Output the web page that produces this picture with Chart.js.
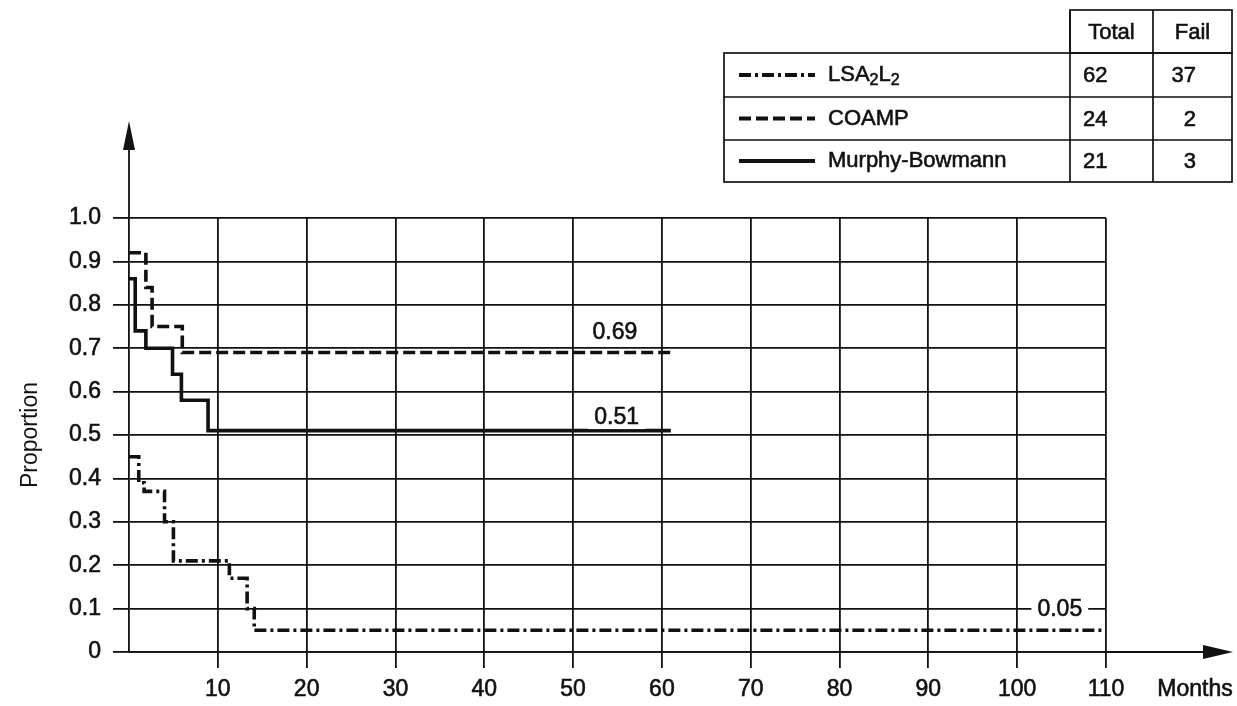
<!DOCTYPE html>
<html>
<head>
<meta charset="utf-8">
<script src="https://cdn.jsdelivr.net/npm/chart.js@4.4.1/dist/chart.umd.min.js"></script>
<style>
  html, body { margin: 0; padding: 0; background: #fff; }
  canvas { display: block; }
</style>
</head>
<body>
<canvas id="survivalChart" width="1237" height="706"></canvas>
<script>
// step curves: month where the step starts, proportion after it
const lsaMonths = [0, 1.1, 1.7, 4.0, 5.0, 11.3, 13.3, 14.1, 110];
const lsaValues = [0.45, 0.39, 0.37, 0.30, 0.21, 0.17, 0.10, 0.05, 0.05];
const coampMonths = [0, 1.9, 2.6, 6.0, 61];
const coampValues = [0.92, 0.84, 0.75, 0.69, 0.69];
const murphyMonths = [0, 0.7, 1.9, 4.9, 5.9, 8.9, 61];
const murphyValues = [0.86, 0.74, 0.70, 0.64, 0.58, 0.51, 0.51];

// legend table
const groupNames = ["LSA2L2", "COAMP", "Murphy-Bowmann"];
const groupTotals = ["62", "24", "21"];
const groupFails = ["37", "2", "3"];
const tableHeaders = ["Total", "Fail"];

// tick labels
const yTickLabels = ["0", "0.1", "0.2", "0.3", "0.4", "0.5", "0.6", "0.7", "0.8", "0.9", "1.0"];
const xTickLabels = ["", "10", "20", "30", "40", "50", "60", "70", "80", "90", "100", "110"];

// labels at the end of each curve
const endLabels = ["0.69", "0.51", "0.05"];
const endLabelMonths = [54.7, 54.9, 104.8];
const endLabelValues = [0.736, 0.539, 0.097];

const INK = "#111";
const FONT = "'Liberation Sans', Arial, sans-serif";

const toPoints = (xs, ys) => xs.map((m, i) => ({ x: m, y: ys[i] }));

const dashLsa = [12, 4, 3, 4];
const dashCoamp = [12, 5];
const lineStyles = [dashLsa, dashCoamp, []];

// slightly heavier text, like the printed original
function inkText(ctx, s, x, y) {
  ctx.fillText(s, x, y);
  ctx.strokeText(s, x, y);
}

const decor = {
  id: "decor",
  afterDraw(chart) {
    const { ctx, chartArea: a, scales } = chart;
    const x0 = scales.x.getPixelForValue(0);
    const y0 = scales.y.getPixelForValue(0);
    ctx.save();
    ctx.strokeStyle = INK;
    ctx.fillStyle = INK;
    ctx.lineWidth = 1.8;
    ctx.setLineDash([]);

    // y axis arrow
    ctx.beginPath();
    ctx.moveTo(x0, a.top);
    ctx.lineTo(x0, 146);
    ctx.stroke();
    ctx.beginPath();
    ctx.moveTo(x0, 121);
    ctx.lineTo(x0 - 6, 150);
    ctx.lineTo(x0 + 6, 150);
    ctx.closePath();
    ctx.fill();

    // x axis arrow
    ctx.beginPath();
    ctx.moveTo(a.right, y0);
    ctx.lineTo(1208, y0);
    ctx.stroke();
    ctx.beginPath();
    ctx.moveTo(1233, y0);
    ctx.lineTo(1203, y0 - 7);
    ctx.lineTo(1203, y0 + 7);
    ctx.closePath();
    ctx.fill();

    ctx.lineWidth = 0.6;
    // Months
    ctx.font = "23px " + FONT;
    ctx.textAlign = "center";
    ctx.textBaseline = "middle";
    inkText(ctx, "Months", 1195, a.bottom + 38);

    // end labels
    endLabels.forEach((t, i) => {
      const px = scales.x.getPixelForValue(endLabelMonths[i]);
      const py = scales.y.getPixelForValue(endLabelValues[i]);
      const w = ctx.measureText(t).width;
      ctx.fillStyle = "#fff";
      ctx.fillRect(px - w / 2 - 6, py - 11, w + 12, 22);
      ctx.fillStyle = INK;
      inkText(ctx, t, px, py);
    });

    // legend table
    const tl = 724, c1 = 1070, c2 = 1153, tr = 1232;
    const rows = [10, 53, 97, 140, 182];
    ctx.fillStyle = "#fff";
    ctx.fillRect(c1, rows[0], tr - c1, rows[1] - rows[0]);
    ctx.fillRect(tl, rows[1], tr - tl, rows[4] - rows[1]);
    ctx.fillStyle = INK;
    ctx.lineWidth = 1.7;
    ctx.strokeRect(c1, rows[0], tr - c1, rows[1] - rows[0]);
    ctx.strokeRect(tl, rows[1], tr - tl, rows[4] - rows[1]);
    ctx.beginPath();
    [rows[2], rows[3]].forEach(r => { ctx.moveTo(tl, r); ctx.lineTo(tr, r); });
    [c1, c2].forEach(c => { ctx.moveTo(c, rows[0]); ctx.lineTo(c, rows[4]); });
    ctx.stroke();

    ctx.lineWidth = 0.6;
    ctx.font = "22px " + FONT;
    ctx.textBaseline = "middle";
    ctx.textAlign = "center";
    inkText(ctx, tableHeaders[0], (c1 + c2) / 2, (rows[0] + rows[1]) / 2 + 1);
    inkText(ctx, tableHeaders[1], (c2 + tr) / 2, (rows[0] + rows[1]) / 2 + 1);

    groupNames.forEach((name, i) => {
      const cy = (rows[i + 1] + rows[i + 2]) / 2;
      // line sample
      ctx.lineWidth = 4;
      ctx.setLineDash(lineStyles[i]);
      ctx.beginPath();
      ctx.moveTo(739, cy);
      ctx.lineTo(815, cy);
      ctx.stroke();
      ctx.setLineDash([]);
      ctx.lineWidth = 0.6;

      ctx.textAlign = "left";
      if (name === "LSA2L2") {
        let px = 828;
        const parts = [["LSA", 0, 22], ["2", 6, 16], ["L", 0, 22], ["2", 6, 16]];
        parts.forEach(([s, dy, size]) => {
          ctx.font = size + "px " + FONT;
          inkText(ctx, s, px, cy + dy);
          px += ctx.measureText(s).width;
        });
        ctx.font = "22px " + FONT;
      } else {
        inkText(ctx, name, 828, cy);
      }
      inkText(ctx, groupTotals[i], 1083, cy + 1);
      ctx.textAlign = "right";
      inkText(ctx, groupFails[i], 1196, cy + 1);
    });
    ctx.restore();
  }
};

const ctx = document.getElementById("survivalChart").getContext("2d");

new Chart(ctx, {
  type: "line",
  data: {
    datasets: [
      {
        label: "LSA2L2",
        data: toPoints(lsaMonths, lsaValues),
        borderDash: dashLsa
      },
      {
        label: "COAMP",
        data: toPoints(coampMonths, coampValues),
        borderDash: dashCoamp
      },
      {
        label: "Murphy-Bowmann",
        data: toPoints(murphyMonths, murphyValues),
        borderDash: []
      }
    ].map(ds => ({
      ...ds,
      stepped: true,
      borderColor: INK,
      borderWidth: 3.6,
      pointRadius: 0,
      fill: false
    }))
  },
  options: {
    responsive: false,
    animation: false,
    devicePixelRatio: 1,
    layout: { padding: { top: 218, right: 131, left: 0, bottom: 0 } },
    plugins: {
      legend: { display: false },
      tooltip: { enabled: false }
    },
    scales: {
      x: {
        type: "linear",
        min: 0,
        max: 110,
        afterFit: s => { s.height = 54; },
        afterBuildTicks: s => { s.ticks = xTickLabels.map((_, i) => ({ value: i * 10 })); },
        ticks: {
          callback: (v, i) => xTickLabels[i],
          color: INK,
          font: { family: FONT, size: 23 },
          padding: 8,
          maxRotation: 0,
          textStrokeColor: INK,
          textStrokeWidth: 0.6
        },
        grid: {
          color: c => (c.tick && c.tick.value === 0 ? "rgba(0,0,0,0)" : INK),
          lineWidth: 1.8,
          tickLength: 16
        },
        border: { display: true, color: INK, width: 1.8 }
      },
      y: {
        type: "linear",
        min: 0,
        max: 1,
        afterFit: s => { s.width = 129; },
        afterBuildTicks: s => { s.ticks = yTickLabels.map((_, i) => ({ value: i / 10 })); },
        ticks: {
          callback: (v, i) => yTickLabels[i],
          color: INK,
          font: { family: FONT, size: 23 },
          padding: 12,
          textStrokeColor: INK,
          textStrokeWidth: 0.6
        },
        grid: {
          color: INK,
          lineWidth: 1.8,
          tickLength: 16
        },
        border: { display: true, color: INK, width: 1.8 },
        title: {
          display: true,
          text: "Proportion",
          color: INK,
          font: { family: FONT, size: 23 },
          padding: { top: 17, bottom: 0 }
        }
      }
    }
  },
  plugins: [decor]
});
</script>
</body>
</html>
